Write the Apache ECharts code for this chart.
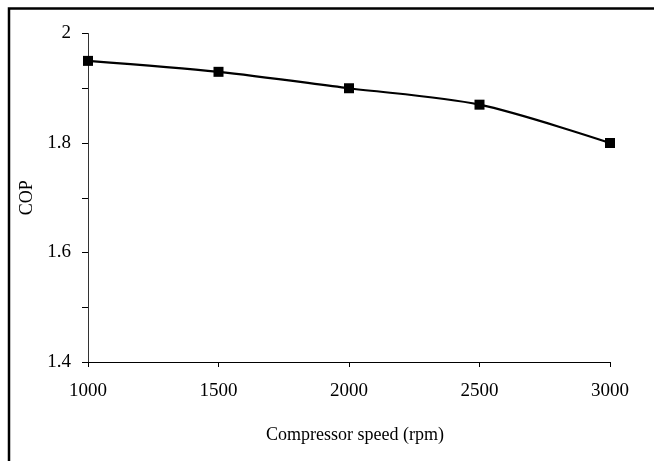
<!DOCTYPE html>
<html>
<head>
<meta charset="utf-8">
<script src="https://cdn.jsdelivr.net/npm/echarts@6/dist/echarts.min.js"></script>
<style>html,body{margin:0;padding:0;background:#fff}#c{width:654px;height:461px}</style>
</head>
<body>
<div id="c"></div>
<script>
var speeds = [1000, 1500, 2000, 2500, 3000];
var cop = [1.95, 1.93, 1.90, 1.87, 1.80];
var xTicks = [1000, 1500, 2000, 2500, 3000];
var yTicks = [1.4, 1.6, 1.8, 2];

var font = '"Liberation Serif", "Times New Roman", serif';
var chart = echarts.init(document.getElementById('c'), null, {renderer: 'canvas'});
chart.setOption({
  animation: false,
  backgroundColor: '#fff',
  grid: {left: 88, right: 44, top: 33.5, bottom: 99},
  xAxis: {
    type: 'value', min: 1000, max: 3000, interval: 500,
    name: 'Compressor speed (rpm)', nameLocation: 'middle', nameGap: 64,
    nameTextStyle: {fontFamily: font, fontSize: 18, color: '#000', padding: [0, 0, 0, 12]},
    axisLine: {show: true, lineStyle: {color: '#000', width: 1}},
    axisTick: {show: true, inside: false, length: 5, lineStyle: {color: '#000'}},
    axisLabel: {fontFamily: font, fontSize: 19, color: '#000', margin: 20,
      formatter: function (v) { return xTicks.indexOf(v) >= 0 ? String(v) : ''; }},
    splitLine: {show: false}
  },
  yAxis: {
    type: 'value', min: 1.4, max: 2, interval: 0.1,
    name: 'COP', nameLocation: 'middle', nameGap: 47,
    nameTextStyle: {fontFamily: font, fontSize: 18, color: '#000'},
    axisLine: {show: true, lineStyle: {color: '#333', width: 1}},
    axisTick: {show: true, inside: false, length: 6, lineStyle: {color: '#000'}},
    axisLabel: {fontFamily: font, fontSize: 19, color: '#000', margin: 17,
      formatter: function (v) {
        for (var i = 0; i < yTicks.length; i++) {
          if (Math.abs(yTicks[i] - v) < 1e-6) return String(yTicks[i]);
        }
        return '';
      }},
    splitLine: {show: false}
  },
  graphic: [{
    type: 'polyline', silent: true,
    shape: {points: [[9, 470], [9, 8.5], [660, 8.5]]},
    style: {stroke: '#000', lineWidth: 2.5, fill: null}
  }],
  series: [{
    type: 'line',
    data: speeds.map(function (s, i) { return [s, cop[i]]; }),
    smooth: 0.3,
    symbol: 'rect', symbolSize: 10,
    lineStyle: {color: '#000', width: 2.2},
    itemStyle: {color: '#000'}
  }]
});
</script>
</body>
</html>
